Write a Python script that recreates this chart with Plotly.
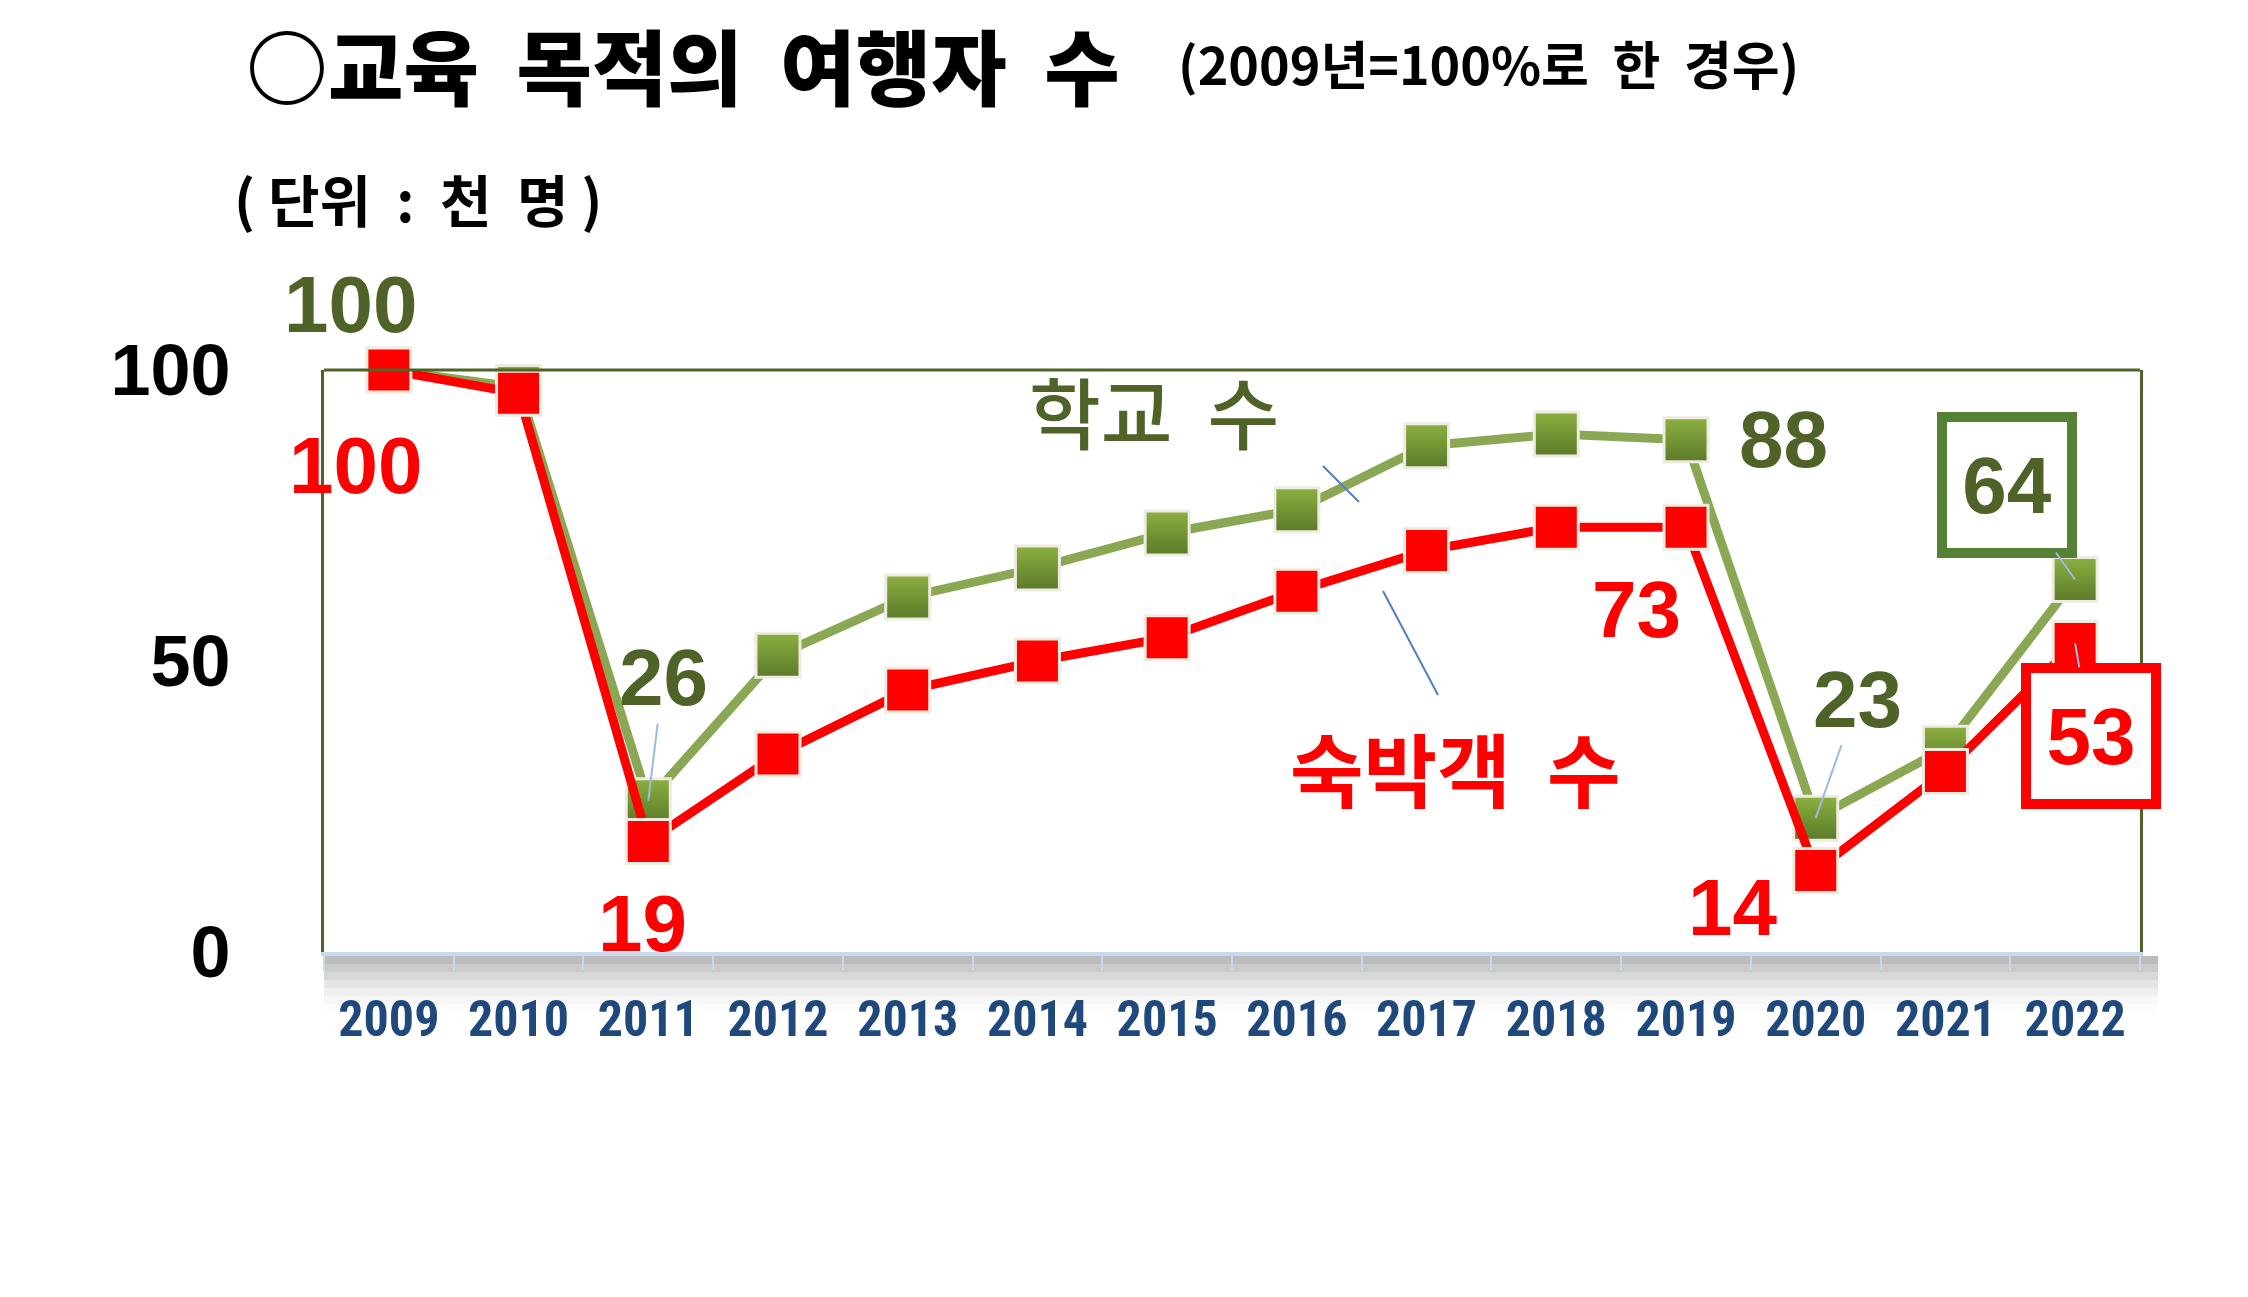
import plotly.graph_objects as go

# ---------------- data ----------------
years = ["2009", "2010", "2011", "2012", "2013", "2014", "2015",
         "2016", "2017", "2018", "2019", "2020", "2021", "2022"]
school = [100, 97, 26, 51, 61, 66, 72, 76, 87, 89, 88, 23, 35, 64]
guests = [100, 96, 19, 34, 45, 50, 54, 62, 69, 73, 73, 14, 31, 53]
y_ticks = [0, 50, 100]

title_main = "○교육\u00a0 목적의\u00a0 여행자\u00a0 수"
title_sub = "(2009년=100%로\u00a0 한\u00a0 경우)"
unit_text = "(\u00a0단위\u00a0\u00a0:\u00a0\u00a0천\u00a0\u00a0명\u00a0)"
school_name = "학교\u00a0\u00a0수"
guest_name = "숙박객\u00a0\u00a0수"

# ---------------- geometry ----------------
W, H = 2248, 1297
L, R, T, B = 324, 2140, 370, 952


def px(x):
    return (x - L) / (R - L)


def py(y):
    return (B - y) / (B - T)


OLIVE = "#4F6228"
GREEN_LINE = "#8AA853"
RED = "#FF0000"
BLUE = "#1F497D"
NUM_FONT = "Liberation Sans, Arial, sans-serif"
TICK_FONT = "Liberation Sans Narrow, Roboto Condensed, Liberation Sans, sans-serif"
KR_FONT = "Noto Sans CJK KR, Noto Sans, sans-serif"

fig = go.Figure()

fig.add_trace(go.Scatter(
    x=years, y=school, mode="lines+markers", name=school_name,
    line=dict(color=GREEN_LINE, width=9),
    marker=dict(symbol="square", size=44, color="#8CB040",
                gradient=dict(type="vertical", color="#5C7A2A"),
                line=dict(color="#EEECE1", width=3)),
    cliponaxis=False, showlegend=False, hoverinfo="x+y",
))
fig.add_trace(go.Scatter(
    x=years, y=guests, mode="lines+markers", name=guest_name,
    line=dict(color=RED, width=9),
    marker=dict(symbol="square", size=44, color=RED,
                line=dict(color="#EEECE1", width=3)),
    cliponaxis=False, showlegend=False, hoverinfo="x+y",
))

ann = []
# titles
ann.append(dict(x=px(244), y=py(2), xref="paper", yref="paper", xanchor="left", yanchor="top",
                text=title_main, showarrow=False,
                font=dict(family=KR_FONT, size=82, color="black", weight=900)))
ann.append(dict(x=px(1176), y=py(62), xref="paper", yref="paper", xanchor="left", yanchor="middle",
                text=title_sub, showarrow=False,
                font=dict(family=KR_FONT, size=52, color="black", weight=700)))
ann.append(dict(x=px(232), y=py(198), xref="paper", yref="paper", xanchor="left", yanchor="middle",
                text=unit_text, showarrow=False,
                font=dict(family=KR_FONT, size=56, color="black", weight=700)))

# series name labels
ann.append(dict(x=px(1154), y=py(410), xref="paper", yref="paper", xanchor="center", yanchor="middle",
                text=school_name, showarrow=False,
                font=dict(family=KR_FONT, size=78, color=OLIVE, weight=500)))
ann.append(dict(x=px(1455), y=py(766), xref="paper", yref="paper", xanchor="center", yanchor="middle",
                text=guest_name, showarrow=False,
                font=dict(family=KR_FONT, size=80, color=RED, weight=700)))


def lab(series, i, color, dx, dy, size=80, arrow=False, box=None):
    v = series[i]
    d = dict(x=i, y=v, xref="x", yref="y", text=str(v),
             xanchor="center", yanchor="middle",
             font=dict(family=NUM_FONT, size=size, color=color, weight=700))
    if arrow:
        d.update(showarrow=True, ax=dx, ay=-dy, axref="pixel", ayref="pixel",
                 arrowhead=0, arrowwidth=2, arrowcolor="#9DBBE0", standoff=0)
    else:
        d.update(showarrow=False, xshift=dx, yshift=dy)
    if box:
        d.update(bordercolor=box, borderwidth=10, borderpad=6, width=108, height=114, bgcolor="white")
    ann.append(d)


# school labels
lab(school, 0, OLIVE, -38, 66)
lab(school, 2, OLIVE, 15, 123, arrow=True)
lab(school, 10, OLIVE, 97, 0)
lab(school, 11, OLIVE, 42, 119, arrow=True)
lab(school, 13, OLIVE, -68, 95, arrow=True, box="#548235")
# guest labels
lab(guests, 0, RED, -33, -95)
lab(guests, 2, RED, -6, -82)
lab(guests, 10, RED, -50, -82)
lab(guests, 11, RED, -83, -37)
lab(guests, 13, RED, 16, -92, arrow=True, box=RED)

shapes = [
    # top border of plot area
    dict(type="line", xref="paper", yref="paper", x0=0, x1=1, y0=1, y1=1,
         line=dict(color=OLIVE, width=3)),
    # leader lines for series names
    dict(type="line", xref="paper", yref="paper", x0=px(1323), y0=py(466), x1=px(1359), y1=py(502),
         line=dict(color="#4F81BD", width=2)),
    dict(type="line", xref="paper", yref="paper", x0=px(1383), y0=py(591), x1=px(1438), y1=py(695),
         line=dict(color="#4F81BD", width=2)),
]
# soft shadow below the x axis
for k, op in enumerate([0.07, 0.06, 0.05, 0.04, 0.03, 0.02, 0.012]):
    shapes.append(dict(type="rect", xref="paper", yref="paper", layer="below",
                       x0=0.0, x1=1.01, y0=py(B + 4), y1=py(B + 12 + k * 8),
                       line=dict(width=0), fillcolor=f"rgba(0,0,0,{op})"))

fig.update_layout(
    width=W, height=H,
    margin=dict(l=L, r=W - R, t=T, b=H - B, pad=0),
    paper_bgcolor="white", plot_bgcolor="white",
    annotations=ann, shapes=shapes,
    xaxis=dict(type="category", range=[-0.5, 13.5], showgrid=False, zeroline=False,
               showline=True, linecolor="#C9D9EE", linewidth=4,
               ticks="outside", tickson="boundaries", ticklen=14, tickcolor="#C9D9EE", tickwidth=2,
               ticklabelstandoff=20,
               tickfont=dict(family=TICK_FONT, size=50, color=BLUE, weight=700)),
    yaxis=dict(range=[0, 100], tickvals=y_ticks, showgrid=False, zeroline=False,
               showline=True, linecolor=OLIVE, linewidth=3, mirror=True,
               ticks="", ticklabelstandoff=76,
               tickfont=dict(family=NUM_FONT, size=72, color="black", weight=700)),
)

fig.write_html("out.html")
